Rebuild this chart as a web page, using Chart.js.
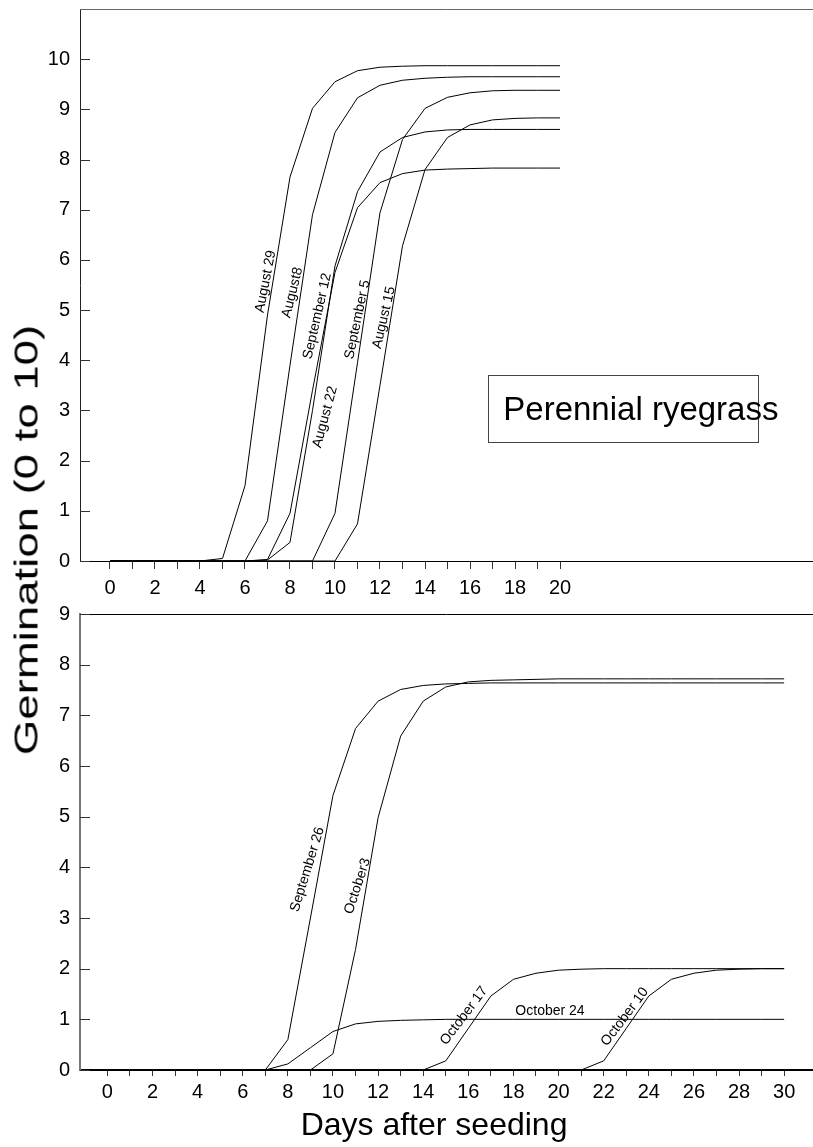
<!DOCTYPE html>
<html>
<head>
<meta charset="utf-8">
<script src="https://cdn.jsdelivr.net/npm/chart.js@4.4.1/dist/chart.umd.min.js"></script>
<style>
html,body{margin:0;padding:0;background:#fff;}
#wrap{position:relative;width:813px;height:1147px;overflow:hidden;background:#fff;}
#c1{position:absolute;left:0;top:0;}
#c2{position:absolute;left:0;top:600px;}
#ytitle{position:absolute;left:26px;top:540px;font-family:"Liberation Sans",Arial,sans-serif;font-size:33px;line-height:1;white-space:nowrap;color:#000;
  transform-origin:50% 50%;transform:translate(-50%,-50%) rotate(-90deg) scaleX(1.38);}
</style>
</head>
<body>
<div id="wrap">
  <canvas id="c1" width="813" height="600"></canvas>
  <canvas id="c2" width="813" height="547"></canvas>
  <div id="ytitle">Germination (0 to 10)</div>
</div>
<script>
// ---------- DATA ----------
const topDays = [0,1,2,3,4,5,6,7,8,9,10,11,12,13,14,15,16,17,18,19,20];
const august29 = [0,0,0,0,0,0.05,1.5,4.9,7.65,9.02,9.55,9.77,9.84,9.86,9.87,9.87,9.87,9.87,9.87,9.87,9.87];
const august8  = [0,0,0,0,0,0,0,0.8,3.9,6.9,8.54,9.23,9.48,9.58,9.62,9.64,9.65,9.65,9.65,9.65,9.65];
const september12 = [0,0,0,0,0,0,0,0.03,0.95,3.4,5.75,7.04,7.54,7.72,7.79,7.81,7.82,7.83,7.83,7.83,7.83];
const august22 = [0,0,0,0,0,0,0,0.02,0.37,3.0,5.88,7.36,8.15,8.44,8.55,8.59,8.6,8.6,8.6,8.6,8.6];
const september5 = [0,0,0,0,0,0,0,0,0,0,0.95,3.95,6.94,8.4,9.02,9.24,9.33,9.37,9.38,9.38,9.38];
const august15 = [0,0,0,0,0,0,0,0,0,0,0,0.74,3.5,6.28,7.8,8.44,8.69,8.79,8.82,8.83,8.83];

const bottomDays = [0,1,2,3,4,5,6,7,8,9,10,11,12,13,14,15,16,17,18,19,20,21,22,23,24,25,26,27,28,29,30];
const september26 = [0,0,0,0,0,0,0,0,0.6,3.0,5.42,6.74,7.28,7.51,7.59,7.62,7.63,7.64,7.64,7.64,7.64,7.64,7.64,7.64,7.64,7.64,7.64,7.64,7.64,7.64,7.64];
const october3 = [0,0,0,0,0,0,0,0,0,0,0.32,2.38,4.98,6.59,7.28,7.56,7.66,7.69,7.7,7.71,7.72,7.72,7.72,7.72,7.72,7.72,7.72,7.72,7.72,7.72,7.72];
const october24 = [0,0,0,0,0,0,0,0,0.12,0.44,0.76,0.91,0.96,0.98,0.99,1,1,1,1,1,1,1,1,1,1,1,1,1,1,1,1];
const october17 = [0,0,0,0,0,0,0,0,0,0,0,0,0,0,0,0.18,0.82,1.46,1.79,1.91,1.97,1.99,2,2,2,2,2,2,2,2,2];
const october10 = [0,0,0,0,0,0,0,0,0,0,0,0,0,0,0,0,0,0,0,0,0,0,0.18,0.82,1.46,1.79,1.91,1.97,1.99,2,2];

const topXTicks = [0,1,2,3,4,5,6,7,8,9,10,11,12,13,14,15,16,17,18,19,20];
const topYTicks = [0,1,2,3,4,5,6,7,8,9,10];
const bottomXTicks = [0,1,2,3,4,5,6,7,8,9,10,11,12,13,14,15,16,17,18,19,20,21,22,23,24,25,26,27,28,29,30];
const bottomYTicks = [0,1,2,3,4,5,6,7,8,9];

const topSeriesNames = ['August 29','August8','September 12','August 22','September 5','August 15'];
const bottomSeriesNames = ['September 26','October3','October 24','October 17','October 10'];

// curve label annotations (day, germination, angle in degrees)
const topLabels = [
  {text:'August 29', day:6.92, val:5.57, angle:-79},
  {text:'August8', day:8.11, val:5.35, angle:-76},
  {text:'September 12', day:9.22, val:4.88, angle:-77},
  {text:'August 22', day:9.56, val:2.87, angle:-75},
  {text:'September 5', day:11.0, val:4.81, angle:-78},
  {text:'August 15', day:12.18, val:4.85, angle:-77}
];
const bottomLabels = [
  {text:'September 26', day:8.87, val:3.96, angle:-73},
  {text:'October3', day:11.09, val:3.63, angle:-72},
  {text:'October 17', day:15.81, val:1.07, angle:-53},
  {text:'October 24', day:19.62, val:1.16, angle:0},
  {text:'October 10', day:22.94, val:1.05, angle:-53}
];
const boxLabel = {text:'Perennial ryegrass', x0:16.79, x1:28.81, y0:2.36, y1:3.70, tx:17.48, ty:2.81};
const xTitle = {text:'Days after seeding', day:14.48};

// ---------- CHARTS ----------
const FAM = '"Liberation Sans", Arial, sans-serif';
Chart.defaults.font.family = FAM;
Chart.defaults.color = '#000';

function pts(days, vals){ return days.map((d,i)=>({x:d, y:vals[i]})); }
function ds(days, vals, name){
  return {label:name, data:pts(days, vals), showLine:true, borderColor:'#000', borderWidth:1,
          pointRadius:0, pointHoverRadius:0, tension:0, fill:false};
}

const decor = {
  id:'decor',
  afterDraw(chart, args, o){
    const {ctx, chartArea:a, scales:{x, y}} = chart;
    ctx.save();
    // top frame line
    ctx.strokeStyle = o.topColor; ctx.lineWidth = 1;
    ctx.beginPath(); ctx.moveTo(a.left, Math.round(a.top)+0.5); ctx.lineTo(a.right, Math.round(a.top)+0.5); ctx.stroke();
    // inward y tick marks
    ctx.strokeStyle = '#333';
    ctx.beginPath();
    y.ticks.forEach(t=>{
      const py = Math.round(y.getPixelForValue(t.value))+0.5;
      ctx.moveTo(a.left, py); ctx.lineTo(a.left+10, py);
    });
    ctx.stroke();
    // curve labels
    ctx.fillStyle = '#000';
    ctx.font = '14px ' + FAM;
    ctx.textAlign = 'center'; ctx.textBaseline = 'middle';
    o.labels.forEach(l=>{
      ctx.save();
      ctx.translate(x.getPixelForValue(l.day), y.getPixelForValue(l.val));
      ctx.rotate(l.angle*Math.PI/180);
      ctx.fillText(l.text, 0, 0);
      ctx.restore();
    });
    if (o.box){
      const b = o.box;
      const L = x.getPixelForValue(b.x0), R = x.getPixelForValue(b.x1);
      const T = y.getPixelForValue(b.y1), B = y.getPixelForValue(b.y0);
      ctx.strokeStyle = '#444'; ctx.lineWidth = 1;
      ctx.strokeRect(Math.round(L)+0.5, Math.round(T)+0.5, Math.round(R-L), Math.round(B-T));
      ctx.font = '33px ' + FAM; ctx.textAlign='left'; ctx.textBaseline='alphabetic';
      ctx.fillText(b.text, x.getPixelForValue(b.tx), y.getPixelForValue(b.ty));
    }
    if (o.xTitle){
      ctx.font = '32px ' + FAM; ctx.textAlign='center'; ctx.textBaseline='middle';
      ctx.fillText(o.xTitle.text, x.getPixelForValue(o.xTitle.day), a.bottom + 56);
    }
    ctx.restore();
  }
};

function makeChart(id, cfg){
  return new Chart(document.getElementById(id), {
    type:'scatter',
    data:{datasets:cfg.datasets},
    options:{
      responsive:false, animation:false, events:[],
      layout:{padding:{top:cfg.padTop, left:0, right:0, bottom:0}},
      plugins:{legend:{display:false}, tooltip:{enabled:false},
        decor:{topColor:cfg.topColor, labels:cfg.labels, box:cfg.box, xTitle:cfg.xTitle}},
      scales:{
        x:{type:'linear', position:'bottom', min:cfg.xmin, max:cfg.xmax,
          afterBuildTicks:s=>{ s.ticks = cfg.xTicks.map(v=>({value:v})); },
          ticks:{autoSkip:false, maxRotation:0, minRotation:0, padding:cfg.xPad, color:'#000',
            font:{size:20, family:FAM}, callback:v=> (v%2===0 ? String(v) : '')},
          grid:{display:true, drawOnChartArea:false, drawTicks:true, tickLength:cfg.tickLen, color:'#333', lineWidth:1},
          border:{display:true, color:'#000', width:cfg.xBorder},
          afterFit:s=>{ s.height = cfg.xHeight; s.paddingLeft = 0; s.paddingRight = 0; }
        },
        y:{type:'linear', position:'left', min:0, max:cfg.ymax,
          afterBuildTicks:s=>{ s.ticks = cfg.yTicks.map(v=>({value:v})); },
          ticks:{padding:10, color:'#000', font:{size:20, family:FAM}, callback:v=>String(v)},
          grid:{display:true, drawOnChartArea:false, drawTicks:false},
          border:{display:true, color:cfg.yBorderColor, width:cfg.yBorder},
          afterFit:s=>{ s.width = 80; s.paddingTop = 0; s.paddingBottom = 0; }
        }
      }
    },
    plugins:[decor]
  });
}

const topVals = [august29, august8, september12, august22, september5, august15];
const botVals = [september26, october3, october24, october17, october10];

makeChart('c1', {
  datasets: topVals.map((v,i)=>ds(topDays, v, topSeriesNames[i])),
  padTop:9, xmin:-1.333, xmax:31.244, ymax:11,
  xTicks:topXTicks, yTicks:topYTicks, xPad:7, tickLen:8, xHeight:39, xBorder:1,
  yBorderColor:'#222', yBorder:1, topColor:'#666',
  labels:topLabels, box:boxLabel, xTitle:null
});
makeChart('c2', {
  datasets: botVals.map((v,i)=>ds(bottomDays, v, bottomSeriesNames[i])),
  padTop:14, xmin:-1.215, xmax:31.28, ymax:9,
  xTicks:bottomXTicks, yTicks:bottomYTicks, xPad:4, tickLen:6, xHeight:77, xBorder:2,
  yBorderColor:'#777', yBorder:2, topColor:'#000',
  labels:bottomLabels, box:null, xTitle:xTitle
});
</script>
</body>
</html>
